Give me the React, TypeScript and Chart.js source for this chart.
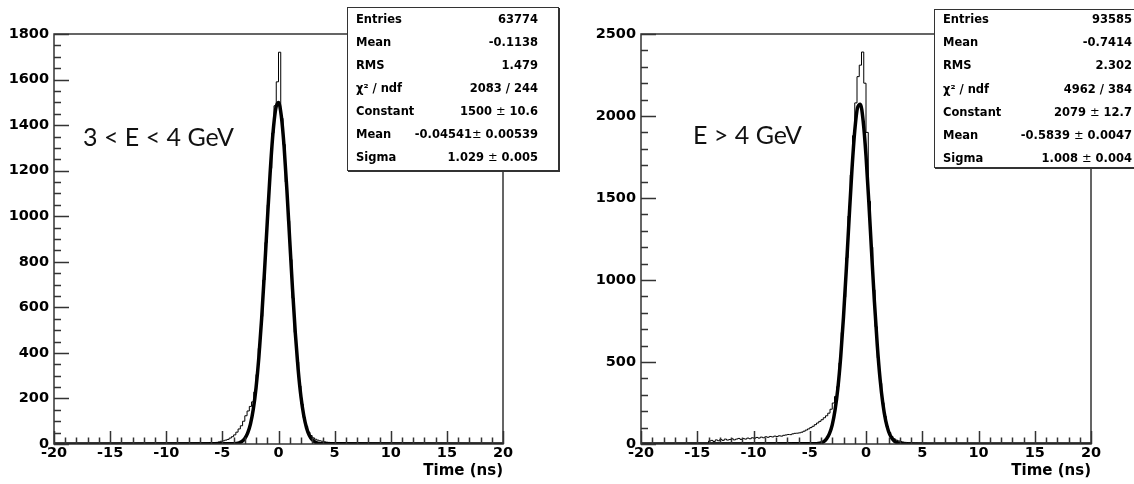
import React, { useEffect, useRef } from "react";
import { Chart, registerables } from "chart.js";
Chart.register(...registerables);

// ---------- shared axis data ----------
const timeMin = -20;
const timeMax = 20;
const timeMajor = 5;
const timeMinor = 1;
const binWidth = 0.2;
const fitStep = 0.25;
const xTitle = "Time (ns)";

// ---------- left panel: 3 < E < 4 GeV ----------
const leftLabel = "3 < E < 4 GeV";
const leftYMax = 1800;
const leftYMajor = 200;
const leftYMinor = 50;
const leftHistStart = -6;
const leftCounts = [
  4, 5, 7, 9, 12, 14, 17, 20, 26, 32,
  40, 52, 66, 80, 100, 124, 145, 165, 185, 228,
  305, 420, 560, 720, 885, 1050, 1210, 1365, 1485, 1590,
  1720, 1430, 1315, 1150, 980, 810, 640, 490, 360, 255,
  175, 116, 78, 52, 37, 27, 21, 17, 14, 12,
  10, 8, 7, 6, 5, 5, 4, 4, 3, 3,
];
const leftFitStart = -4;
const leftFitValues = [
  0.9, 2.3, 5.3, 11.7, 24.3, 47.4, 87, 151, 247, 380,
  552, 756, 975, 1186, 1360, 1471, 1499, 1440, 1304, 1113,
  895, 680, 486, 328, 208, 125, 70.5, 37.5, 18.8, 8.9,
  4.0, 1.7, 0.7,
];
const leftStatLabels = ["Entries", "Mean", "RMS", "χ² / ndf", "Constant", "Mean", "Sigma"];
const leftStatValues = ["63774", "-0.1138", "1.479", "2083 / 244", "1500 ± 10.6", "-0.04541± 0.00539", "1.029 ± 0.005"];

// ---------- right panel: E > 4 GeV ----------
const rightLabel = "E > 4 GeV";
const rightYMax = 2500;
const rightYMajor = 500;
const rightYMinor = 100;
const rightHistStart = -14;
const rightCounts = [
  18, 22, 15, 25, 20, 28, 22, 30, 24, 27,
  32, 25, 30, 34, 28, 33, 30, 36, 32, 38,
  35, 40, 36, 42, 38, 44, 41, 46, 43, 48,
  46, 50, 48, 53, 55, 58, 57, 62, 65, 66,
  68, 72, 78, 85, 92, 100, 108, 118, 128, 138,
  148, 160, 172, 188, 212, 250, 290, 350, 495, 680,
  895, 1135, 1390, 1640, 1880, 2080, 2240, 2310, 2390, 2200,
  1900, 1480, 1200, 940, 715, 525, 370, 252, 168, 108,
  70, 46, 32, 24, 19, 15, 12, 10, 9, 8,
  7, 6, 6, 5, 5, 4, 4, 3, 3, 3,
];
const rightFitStart = -4.5;
const rightFitValues = [
  1.1, 2.8, 6.7, 15, 32, 63, 117, 207, 341, 530,
  775, 1065, 1376, 1671, 1909, 2051, 2072, 1968, 1758, 1476,
  1166, 866, 605, 397, 245, 142, 78, 40, 19, 8.8,
  3.7, 1.5, 0.6,
];
const rightStatLabels = ["Entries", "Mean", "RMS", "χ² / ndf", "Constant", "Mean", "Sigma"];
const rightStatValues = ["93585", "-0.7414", "2.302", "4962 / 384", "2079 ± 12.7", "-0.5839 ± 0.0047", "1.008 ± 0.004"];

// ---------- frame / inner ticks plugin (ROOT style) ----------
const rootFrame = {
  id: "rootFrame",
  afterDatasetsDraw(chart: any, _args: any, opts: any) {
    const { ctx, chartArea: a, scales } = chart;
    const x = scales.x;
    const y = scales.y;
    ctx.save();
    ctx.strokeStyle = "#333";
    ctx.lineWidth = 1.5;
    ctx.strokeRect(a.left, a.top, a.right - a.left, a.bottom - a.top);
    ctx.beginPath();
    const ny = Math.round((y.max - y.min) / opts.yMinor);
    for (let i = 0; i <= ny; i++) {
      const v = y.min + i * opts.yMinor;
      const py = Math.round(y.getPixelForValue(v)) + 0.5;
      const major = Math.abs(v / opts.yMajor - Math.round(v / opts.yMajor)) < 1e-6;
      ctx.moveTo(a.left, py);
      ctx.lineTo(a.left + (major ? 15 : 7), py);
    }
    const nx = Math.round((x.max - x.min) / opts.xMinor);
    for (let i = 0; i <= nx; i++) {
      const v = x.min + i * opts.xMinor;
      const px = Math.round(x.getPixelForValue(v)) + 0.5;
      const major = Math.abs(v / opts.xMajor - Math.round(v / opts.xMajor)) < 1e-6;
      ctx.moveTo(px, a.bottom);
      ctx.lineTo(px, a.bottom - (major ? 13 : 6.5));
    }
    ctx.stroke();
    ctx.restore();
  },
};

type PanelProps = {
  offset: number;
  areaLeft: number;
  areaRight: number;
  yMax: number;
  yMajor: number;
  yMinor: number;
  histStart: number;
  counts: number[];
  fitStart: number;
  fitValues: number[];
};

const canvasW = 567;
const canvasH = 484;
const tickFont = { family: "DejaVu Sans", weight: "bold" as const, size: 14.5 };

function Panel(p: PanelProps) {
  const ref = useRef<HTMLCanvasElement | null>(null);
  useEffect(() => {
    if (!ref.current) return;
    const n = p.counts.length;
    const histPts = [
      { x: timeMin, y: 0 },
      ...p.counts.map((c, i) => ({ x: p.histStart + i * binWidth, y: c })),
      { x: p.histStart + n * binWidth, y: 0 },
      { x: timeMax, y: 0 },
    ];
    const fitPts = [
      { x: timeMin, y: 0 },
      ...p.fitValues.map((v, i) => ({ x: p.fitStart + i * fitStep, y: v })),
      { x: timeMax, y: 0 },
    ];
    const yWidth = p.areaLeft;
    const chart = new Chart(ref.current, {
      type: "line",
      data: {
        datasets: [
          {
            data: fitPts,
            borderColor: "#000",
            borderWidth: 3.5,
            pointRadius: 0,
            cubicInterpolationMode: "monotone",
            borderJoinStyle: "round",
            fill: false,
          } as any,
          {
            data: histPts,
            borderColor: "#000",
            borderWidth: 1,
            pointRadius: 0,
            stepped: true,
            fill: false,
          } as any,
        ],
      },
      options: {
        animation: false,
        responsive: false,
        maintainAspectRatio: false,
        parsing: false as any,
        normalized: true,
        events: [],
        layout: { padding: { left: 0, right: canvasW - p.areaRight, top: 34, bottom: 0 } },
        plugins: {
          legend: { display: false },
          tooltip: { enabled: false },
          rootFrame: { xMajor: timeMajor, xMinor: timeMinor, yMajor: p.yMajor, yMinor: p.yMinor },
        } as any,
        scales: {
          x: {
            type: "linear",
            min: timeMin,
            max: timeMax,
            grid: { display: false, drawTicks: false },
            border: { display: false },
            ticks: {
              stepSize: timeMajor,
              font: tickFont,
              color: "#000",
              padding: 1,
              maxRotation: 0,
              autoSkip: false,
              callback: (v: any) => String(v),
            },
            title: {
              display: true,
              text: xTitle,
              align: "end",
              color: "#000",
              font: { family: "DejaVu Sans", weight: "bold", size: 15 },
              padding: { top: 0, bottom: 4 },
            },
            afterFit: (s: any) => {
              s.height = canvasH - 444;
            },
          },
          y: {
            type: "linear",
            min: 0,
            max: p.yMax,
            grid: { display: false, drawTicks: false },
            border: { display: false },
            ticks: {
              stepSize: p.yMajor,
              font: tickFont,
              color: "#000",
              padding: 5,
              callback: (v: any) => String(v),
            },
            afterFit: (s: any) => {
              s.width = yWidth;
            },
          },
        } as any,
      },
      plugins: [rootFrame],
    });
    return () => chart.destroy();
  }, []);
  return (
    <canvas
      ref={ref}
      width={canvasW}
      height={canvasH}
      style={{ position: "absolute", left: p.offset, top: 0, width: canvasW, height: canvasH }}
    />
  );
}

type BoxProps = {
  left: number;
  top: number;
  right: number;
  bottom: number;
  firstCenter: number;
  step: number;
  padLeft: number;
  padRight: number;
  labels: string[];
  values: string[];
};

function renderVal(v: string) {
  const parts = v.split("±");
  if (parts.length === 1) return v;
  return (
    <>
      {parts[0]}
      <span style={{ fontWeight: "normal" }}>±</span>
      {parts[1]}
    </>
  );
}

function StatBox(b: BoxProps) {
  const rowH = 20;
  return (
    <div
      style={{
        position: "absolute",
        left: b.left,
        top: b.top,
        width: b.right - b.left,
        height: b.bottom - b.top,
        boxSizing: "border-box",
        background: "#fff",
        border: "1px solid #333",
        boxShadow: "1px 1px 0 #333",
        fontFamily: "DejaVu Sans",
        fontWeight: "bold",
        fontSize: 11.5,
        color: "#000",
      }}
    >
      {b.labels.map((l, i) => (
        <div
          key={i}
          style={{
            position: "absolute",
            left: b.padLeft - 1,
            right: b.padRight - 1,
            top: b.firstCenter + i * b.step - b.top - 1 - rowH / 2,
            height: rowH,
            lineHeight: rowH + "px",
            display: "flex",
            justifyContent: "space-between",
            whiteSpace: "nowrap",
          }}
        >
          <span>{l}</span>
          <span>{renderVal(b.values[i])}</span>
        </div>
      ))}
    </div>
  );
}

const energyStyle: React.CSSProperties = {
  position: "absolute",
  fontFamily: "Lato",
  fontSize: 25,
  lineHeight: "25px",
  color: "#111",
  whiteSpace: "nowrap",
};

export default function App() {
  return (
    <div
      style={{
        position: "absolute",
        left: 0,
        top: 0,
        width: 1134,
        height: 484,
        overflow: "hidden",
        background: "#fff",
      }}
    >
      <Panel
        offset={0}
        areaLeft={54}
        areaRight={503}
        yMax={leftYMax}
        yMajor={leftYMajor}
        yMinor={leftYMinor}
        histStart={leftHistStart}
        counts={leftCounts}
        fitStart={leftFitStart}
        fitValues={leftFitValues}
      />
      <Panel
        offset={567}
        areaLeft={74}
        areaRight={524}
        yMax={rightYMax}
        yMajor={rightYMajor}
        yMinor={rightYMinor}
        histStart={rightHistStart}
        counts={rightCounts}
        fitStart={rightFitStart}
        fitValues={rightFitValues}
      />
      <div style={{ ...energyStyle, left: 83, top: 124 }}>{leftLabel}</div>
      <div style={{ ...energyStyle, left: 693, top: 122 }}>{rightLabel}</div>
      <StatBox
        left={347}
        top={7}
        right={559}
        bottom={171}
        firstCenter={19.2}
        step={22.9}
        padLeft={9}
        padRight={21}
        labels={leftStatLabels}
        values={leftStatValues}
      />
      <StatBox
        left={934}
        top={9}
        right={1152}
        bottom={168}
        firstCenter={18.7}
        step={23.27}
        padLeft={9}
        padRight={20}
        labels={rightStatLabels}
        values={rightStatValues}
      />
    </div>
  );
}
